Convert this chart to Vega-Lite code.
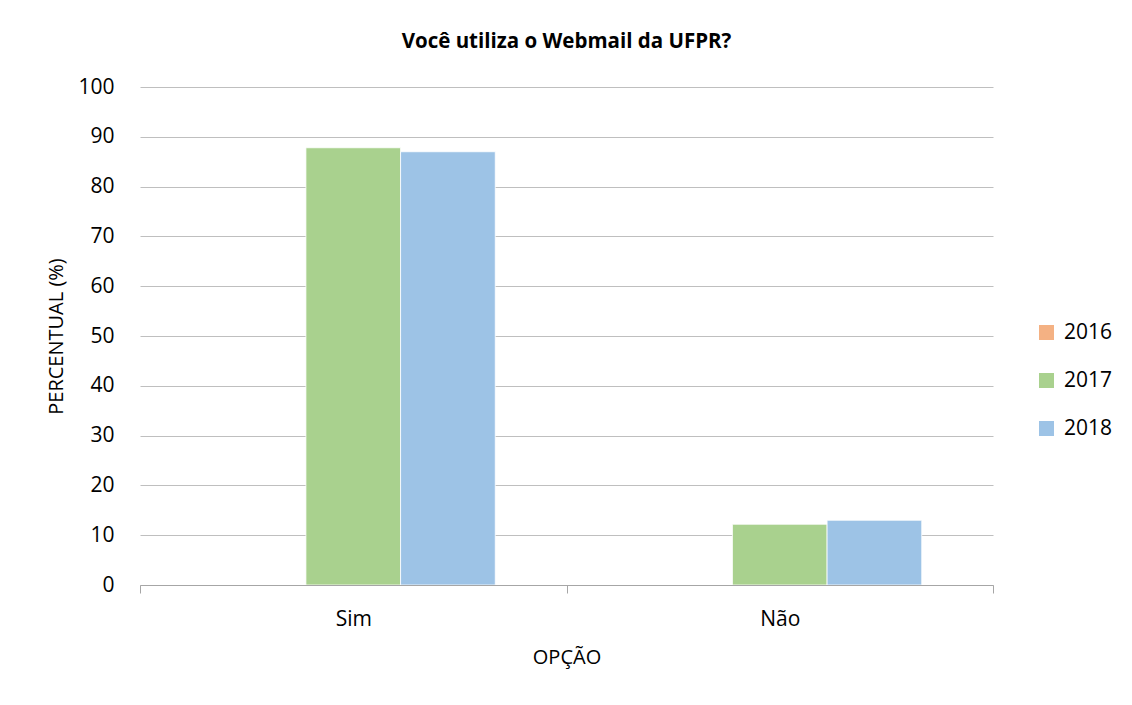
{
  "$schema": "https://vega.github.io/schema/vega-lite/v6.json",
  "autosize": {"type": "none"},
  "width": 853,
  "height": 498,
  "padding": {"left": 140, "top": 87, "right": 139, "bottom": 120},
  "background": "white",
  "title": {
    "text": "Você utiliza o Webmail da UFPR?",
    "font": "Open Sans",
    "fontSize": 20.5,
    "fontWeight": "bold",
    "color": "#000000",
    "anchor": "middle",
    "offset": 24
  },
  "data": {
    "values": [
      {"opcao": "Sim", "ano": "2016", "percentual": 0},
      {"opcao": "Sim", "ano": "2017", "percentual": 87.8},
      {"opcao": "Sim", "ano": "2018", "percentual": 87},
      {"opcao": "Não", "ano": "2016", "percentual": 0},
      {"opcao": "Não", "ano": "2017", "percentual": 12.2},
      {"opcao": "Não", "ano": "2018", "percentual": 13}
    ]
  },
  "mark": {"type": "bar", "stroke": "white", "strokeWidth": 0.8},
  "encoding": {
    "x": {
      "field": "opcao",
      "type": "nominal",
      "sort": ["Sim", "Não"],
      "scale": {"paddingInner": 0, "paddingOuter": 0},
      "axis": {
        "title": "OPÇÃO",
        "labelAngle": 0,
        "tickBand": "extent",
        "tickSize": 8,
        "tickColor": "#A6A6A6",
        "domainColor": "#A6A6A6",
        "labelPadding": 15,
        "titlePadding": 18,
        "grid": false,
        "zindex": 1
      }
    },
    "xOffset": {
      "field": "ano",
      "type": "nominal",
      "scale": {"paddingInner": 0, "paddingOuter": 0.7526}
    },
    "y": {
      "field": "percentual",
      "type": "quantitative",
      "scale": {"domain": [0, 100], "nice": false},
      "axis": {
        "title": "PERCENTUAL (%)",
        "values": [0, 10, 20, 30, 40, 50, 60, 70, 80, 90, 100],
        "domain": false,
        "ticks": false,
        "tickSize": 0,
        "labelPadding": 26,
        "titlePadding": 11,
        "grid": true,
        "gridColor": "#BFBFBF",
        "gridWidth": 1
      }
    },
    "color": {
      "field": "ano",
      "type": "nominal",
      "scale": {"domain": ["2016", "2017", "2018"], "range": ["#F4B183", "#A9D18E", "#9DC3E6"]},
      "legend": {
        "title": null,
        "orient": "none",
        "legendX": 896,
        "legendY": 235,
        "symbolType": "square",
        "symbolSize": 225,
        "symbolStrokeWidth": 0,
        "labelOffset": 7,
        "rowPadding": 26,
        "padding": 0
      }
    }
  },
  "config": {
    "font": "Open Sans",
    "view": {"stroke": null},
    "axis": {
      "labelFont": "Open Sans",
      "labelFontSize": 21,
      "labelColor": "#000000",
      "titleFont": "Open Sans",
      "titleFontSize": 20,
      "titleFontWeight": "normal",
      "titleColor": "#000000"
    },
    "legend": {
      "labelFont": "Open Sans",
      "labelFontSize": 21,
      "labelColor": "#000000"
    }
  }
}
